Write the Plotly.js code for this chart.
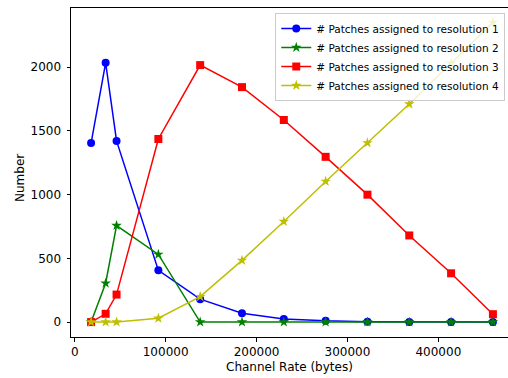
<!DOCTYPE html>
<html>
<head>
<meta charset="utf-8">
<script src="https://cdn.plot.ly/plotly-3.0.1.min.js"></script>
<style>
html,body{margin:0;padding:0;overflow:hidden;background:#fff;}
#chart{width:514px;height:378px;}
</style>
</head>
<body>
<div id="chart"></div>
<script>
const channelRate = [18000, 34000, 46000, 92000, 138000, 184000, 230000, 276000, 322000, 368000, 414000, 460000];
const res1 = [1405, 2035, 1422, 406, 180, 70, 25, 10, 3, 1, 0, 0];
const res2 = [0, 305, 758, 531, 0, 0, 0, 0, 0, 0, 0, 0];
const res3 = [0, 65, 216, 1437, 2017, 1844, 1586, 1297, 1000, 680, 383, 62];
const res4 = [0, 0, 0, 30, 200, 484, 789, 1104, 1406, 1711, 2031, 2352];
const names = ['# Patches assigned to resolution 1', '# Patches assigned to resolution 2',
               '# Patches assigned to resolution 3', '# Patches assigned to resolution 4'];
const xTicks = [0, 100000, 200000, 300000, 400000];
const xTickText = ['0', '100000', '200000', '300000', '400000'];
const yTicks = [0, 500, 1000, 1500, 2000];
const xTitle = 'Channel Rate (bytes)';
const yTitle = 'Number';

const styles = [
  {color: '#0000ff', symbol: 'circle', size: 8},
  {color: '#008000', symbol: 'star', size: 8},
  {color: '#ff0000', symbol: 'square', size: 8},
  {color: '#bfbf00', symbol: 'star', size: 8}
];
const series = [res1, res2, res3, res4];
const traces = series.map((ys, i) => ({
  x: channelRate, y: ys, name: names[i], type: 'scatter', mode: 'lines+markers',
  line: {color: styles[i].color, width: 1.5},
  marker: {color: styles[i].color, symbol: styles[i].symbol, size: styles[i].size}
}));

const FF = 'DejaVu Sans';
const layout = {
  width: 514, height: 378,
  margin: {l: 71, r: 1, t: 8, b: 41, pad: 0},
  paper_bgcolor: '#fff', plot_bgcolor: '#fff',
  font: {family: FF, size: 12, color: '#000'},
  showlegend: true,
  legend: {x: 0.9825, y: 0.985, xanchor: 'right', yanchor: 'top',
           bgcolor: 'rgba(255,255,255,0.8)', bordercolor: '#cccccc', borderwidth: 1,
           font: {family: FF, size: 10.5, color: '#000'},
           itemwidth: 30, tracegroupgap: 0},
  xaxis: {range: [-4100, 482100], tickvals: xTicks, ticktext: xTickText,
          showgrid: false, zeroline: false, showline: true, linecolor: '#000', linewidth: 1,
          mirror: true, ticks: 'outside', ticklen: 3.5, tickcolor: '#000',
          tickfont: {family: FF, size: 12, color: '#000'}},
  yaxis: {range: [-117, 2465], tickvals: yTicks, ticklabelstandoff: 3,
          showgrid: false, zeroline: false, showline: true, linecolor: '#000', linewidth: 1,
          mirror: true, ticks: 'outside', ticklen: 3.5, tickcolor: '#000',
          tickfont: {family: FF, size: 12, color: '#000'}},
  annotations: [
    {text: xTitle, xref: 'paper', yref: 'paper', x: (289 - 71) / 442, y: -(367 - 337) / 329,
     xanchor: 'center', yanchor: 'middle', showarrow: false, font: {family: FF, size: 12, color: '#000'}},
    {text: yTitle, xref: 'paper', yref: 'paper', x: -(71 - 20) / 442, y: 1 - (178 - 8) / 329,
     xanchor: 'center', yanchor: 'middle', textangle: -90, showarrow: false, font: {family: FF, size: 12, color: '#000'}}
  ]
};
Plotly.newPlot('chart', traces, layout, {displayModeBar: false, staticPlot: true});
</script>
</body>
</html>
